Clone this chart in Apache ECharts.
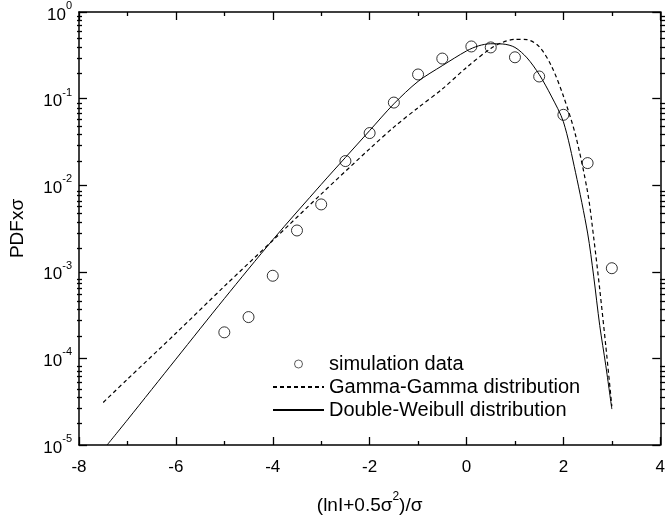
<!DOCTYPE html>
<html>
<head>
<meta charset="utf-8">
<script src="https://cdn.jsdelivr.net/npm/echarts@6/dist/echarts.min.js"></script>
<style>
  html, body { margin: 0; padding: 0; background: #fff; }
  #chart { width: 668px; height: 520px; }
</style>
</head>
<body>
<div id="chart"></div>
<script>
// simulation points
const simX = [-5, -4.5, -4, -3.5, -3, -2.5, -2, -1.5, -1, -0.5, 0.1, 0.5, 1, 1.5, 2, 2.5, 3];
const simY = [2e-4, 3e-4, 9e-4, 3e-3, 6e-3, 0.019, 0.04, 0.09, 0.19, 0.29, 0.40, 0.39, 0.30, 0.18, 0.065, 0.018, 0.0011];

// Gamma-Gamma curve (dashed)
const ggX = [-7.5, -7, -6, -5, -4, -3, -2, -1.5, -1, -0.5, 0, 0.5, 0.75, 1, 1.25, 1.5, 1.75, 2, 2.25, 2.5, 2.625, 2.75, 2.875, 3];
const ggY = [3.1e-5, 5.75e-5, 1.95e-4, 6.8e-4, 2.3e-3, 7.9e-3, 0.0263, 0.0468, 0.0785, 0.129, 0.229, 0.38, 0.447, 0.484, 0.479, 0.398, 0.24, 0.107, 0.038, 8.3e-3, 2.5e-3, 6.3e-4, 1.4e-4, 2.8e-5];

// Double-Weibull curve (solid)
const dwX = [-7.42, -7, -6, -5, -4, -3, -2.5, -2, -1.5, -1, -0.5, 0, 0.25, 0.5, 0.75, 1, 1.25, 1.5, 1.75, 2, 2.25, 2.5, 2.625, 2.75, 2.875, 3];
const dwY = [1.0e-5, 1.95e-5, 9.8e-5, 4.9e-4, 2.34e-3, 0.0102, 0.0209, 0.0427, 0.087, 0.158, 0.24, 0.355, 0.407, 0.43, 0.427, 0.39, 0.295, 0.19, 0.107, 0.054, 0.0141, 2.8e-3, 8.9e-4, 2.4e-4, 8.3e-5, 2.6e-5];

const yMin = 1e-5, yMax = 1;

const font = "'Liberation Sans', Arial, sans-serif";
const pair = (xs, ys) => xs.map((x, i) => [x, ys[i]]);

// minor ticks 2..9 x 10^k for the log axis
let minorVals = [];
for (let k = -5; k < 0; k++) {
    for (let m = 2; m <= 9; m++) minorVals.push(m * Math.pow(10, k));
}

const yLabelFmt = (v) => '{b|10}{s|' + Math.round(Math.log10(v)) + '}';
const ts = () => ({ color: '#000', width: 1.3 });

const yAxisOf = (grid, pos, major) => ({
    type: 'log', logBase: 10, min: yMin, max: yMax,
    gridIndex: grid,
    position: pos,
    splitLine: { show: false },
    minorSplitLine: { show: false },
    axisLine: { show: major, onZero: false, lineStyle: { color: '#000', width: 1.5 } },
    axisTick: major
        ? { show: true, inside: true, length: 8, lineStyle: ts() }
        : { show: true, inside: true, length: 5, customValues: minorVals, lineStyle: ts() },
    axisLabel: { show: false }
});

const myChart = echarts.init(document.getElementById('chart'));
const yLeft = yAxisOf(0, 'left', true);
yLeft.axisLabel = {
    show: true, margin: 7, formatter: yLabelFmt,
    rich: {
        b: { fontSize: 17, fontFamily: font, color: '#000', padding: [6, 0, 0, 0], verticalAlign: 'bottom' },
        s: { fontSize: 11, fontFamily: font, color: '#000', verticalAlign: 'top' }
    }
};
yLeft.name = 'PDFxσ';
yLeft.nameLocation = 'middle';
yLeft.nameRotate = 90;
yLeft.nameGap = 52;
yLeft.nameTextStyle = { fontSize: 19, fontFamily: font, color: '#000' };

const option = {
    backgroundColor: '#fff',
    animation: false,
    grid: [
        { left: 77, right: 3, top: 12, bottom: 70, containLabel: false },
        { left: 77, right: 3, top: 12, bottom: 70, containLabel: false }
    ],
    legend: {
        orient: 'vertical',
        left: 267,
        top: 349,
        itemWidth: 51,
        itemHeight: 8,
        itemGap: 3,
        textStyle: { fontSize: 20, fontFamily: font, color: '#000' },
        data: [
            { name: 'simulation data', itemStyle: { borderWidth: 0.8 } },
            { name: 'Gamma-Gamma distribution', itemStyle: { opacity: 0 } },
            { name: 'Double-Weibull distribution', itemStyle: { opacity: 0 } }
        ]
    },
    xAxis: [{
        type: 'value', min: -8, max: 4, interval: 2, position: 'bottom',
        splitLine: { show: false },
        axisLine: { show: true, onZero: false, lineStyle: { color: '#000', width: 1.5 } },
        axisTick: { show: true, inside: true, length: 8, lineStyle: ts() },
        minorTick: { show: true, splitNumber: 2, length: 4, lineStyle: ts() },
        axisLabel: { fontSize: 17, color: '#000', fontFamily: font, margin: 14 },
        name: '{n|(lnI+0.5σ}{s|2}{n|)/σ}',
        nameLocation: 'middle',
        nameGap: 46,
        nameTextStyle: {
            rich: {
                n: { fontSize: 19, fontFamily: font, color: '#000', padding: [5, 0, 0, 0], verticalAlign: 'bottom' },
                s: { fontSize: 12, fontFamily: font, color: '#000', verticalAlign: 'top' }
            }
        }
    }, {
        type: 'value', min: -8, max: 4, interval: 2, position: 'top',
        splitLine: { show: false },
        axisLine: { show: true, onZero: false, lineStyle: { color: '#000', width: 1.5 } },
        axisTick: { show: true, inside: true, length: 8, lineStyle: ts() },
        minorTick: { show: true, splitNumber: 2, length: 4, lineStyle: ts() },
        axisLabel: { show: false }
    }, {
        type: 'value', min: -8, max: 4, gridIndex: 1, show: false
    }],
    yAxis: [
        yLeft,
        yAxisOf(0, 'right', true),
        yAxisOf(1, 'left', false),
        yAxisOf(1, 'right', false)
    ],
    series: [{
        name: 'simulation data',
        type: 'scatter',
        symbol: 'circle',
        symbolSize: 11,
        itemStyle: { color: 'rgba(255,255,255,0)', borderColor: '#000', borderWidth: 1 },
        data: pair(simX, simY),
        z: 5
    }, {
        name: 'Gamma-Gamma distribution',
        type: 'line',
        symbol: 'none',
        smooth: 0.3,
        lineStyle: { color: '#000', width: 1.2, type: [4, 3] },
        itemStyle: { color: '#000' },
        data: pair(ggX, ggY)
    }, {
        name: 'Double-Weibull distribution',
        type: 'line',
        symbol: 'none',
        smooth: 0.3,
        lineStyle: { color: '#000', width: 1 },
        itemStyle: { color: '#000' },
        data: pair(dwX, dwY)
    }]
};
myChart.setOption(option);
</script>
</body>
</html>
